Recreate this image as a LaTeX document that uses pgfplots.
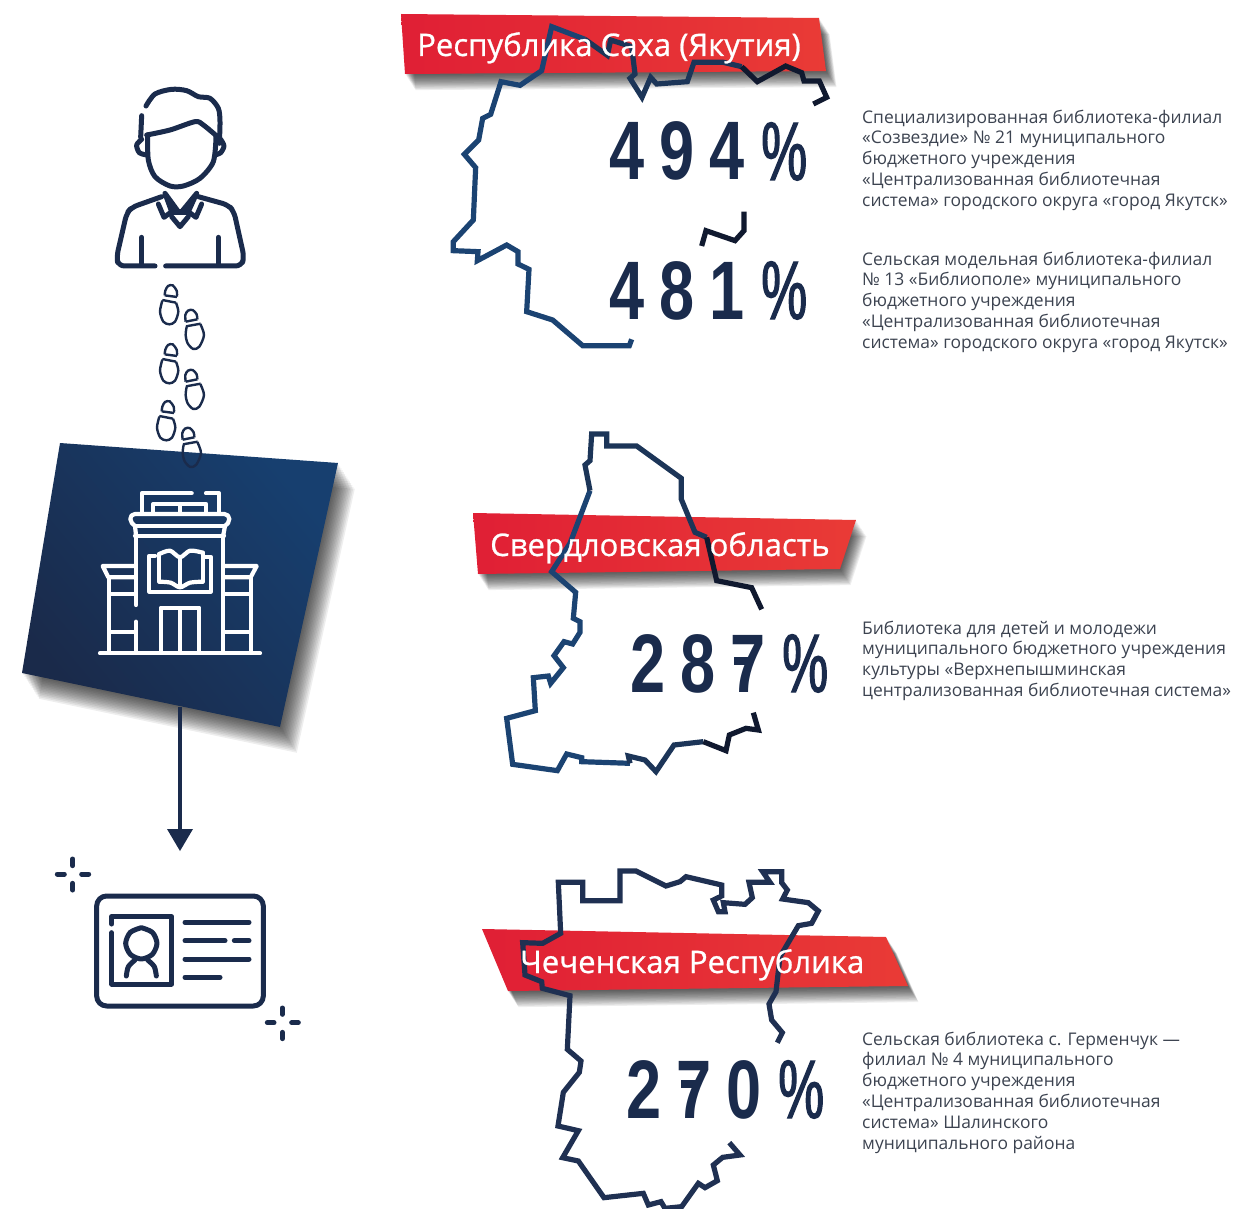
\documentclass[border=0pt]{standalone}
\usepackage{fontspec}
\usepackage{pgfplots}
\pgfplotsset{compat=1.18}
\setmainfont{Open Sans}
\newfontfamily\bannerfont{Open Sans}[FakeBold=0.8]
\newfontfamily\numfont{Liberation Sans}[FakeStretch=0.76,LetterSpace=18]
\newfontfamily\pctfont{Liberation Sans}[FakeStretch=0.62,FakeBold=1.5]
\definecolor{navy}{HTML}{1A2B4C}
\definecolor{mapA}{HTML}{1B4372}
\definecolor{mapB}{HTML}{1C3558}
\definecolor{mapC}{HTML}{10192F}
\definecolor{mapD}{HTML}{1F3052}
\definecolor{redL}{HTML}{E01F35}
\definecolor{redR}{HTML}{E93B36}
\definecolor{tileL}{HTML}{1A2A4A}
\definecolor{tileR}{HTML}{173F6F}
\definecolor{body}{HTML}{3C4350}
% zoomed-crop coordinates -> picture pixels
\pgfplotsset{
  crop/.style n args={2}{x filter/.expression={#1+x/3},y filter/.expression={#2+y/3}},
  icon/.style={no marks,line join=round,line cap=round,line width=5pt,navy},
  mapline/.style={no marks,line join=miter,line width=5.2pt},
  whiteline/.style={no marks,line join=round,line cap=round,line width=4.2pt,white,crop={20}{440}},
  cardline/.style={icon,crop={50}{820}},
  manline/.style={icon,crop={100}{80}},
  footline/.style={no marks,navy,line width=2.4pt},
}
% soft shadow under a polygon: #1 = reach, #2 = corners
\newcommand{\softshadow}[2]{%
  \pgfplotsinvokeforeach{1,...,14}{%
    \addplot[draw=none,fill=black,fill opacity=0.065,no marks,
      x filter/.expression={x+0.75*#1*##1},y filter/.expression={y+1.15*#1*##1}] coordinates {#2};
  }%
}
\newcommand{\footL}[2]{%
  \addplot[footline,smooth,crop={140+#1}{280+#2}] coordinates {(108,68) (115,95) (105,125) (88,133) (70,125) (60,95) (67,62)};
  \addplot[footline,crop={140+#1}{280+#2}] coordinates {(67,60) (108,68)};
  \addplot[footline,smooth,crop={140+#1}{280+#2}] coordinates {(111,50) (110,32) (98,16) (84,18) (76,32) (74,46)};
  \addplot[footline,crop={140+#1}{280+#2}] coordinates {(74,46) (111,51)};
}
\newcommand{\footR}[2]{%
  \addplot[footline,smooth,crop={140+#1}{280+#2}] coordinates {(181,132) (192,165) (178,200) (160,207) (143,190) (137,165) (140,140)};
  \addplot[footline,crop={140+#1}{280+#2}] coordinates {(138,139) (182,131)};
  \addplot[footline,smooth,crop={140+#1}{280+#2}] coordinates {(172,118) (170,103) (158,90) (144,92) (136,105) (137,125)};
  \addplot[footline,crop={140+#1}{280+#2}] coordinates {(137,125) (172,118)};
}
\newcommand{\bannertext}[3]{\node[anchor=base west,inner sep=0pt,white] at (axis cs:#1,#2) {\fontsize{31.1}{37}\selectfont\bannerfont #3};}
\newcommand{\bignum}[3]{\node[anchor=base west,inner sep=0pt,navy] at (axis cs:#1,#2) {\fontsize{83}{90}\selectfont\numfont\bfseries #3\hspace{17pt}\pctfont\mdseries\%};}
\newcommand{\bodytext}[3]{\node[anchor=north west,inner sep=0pt,body,align=left,font=\fontsize{17.43}{20.9}\selectfont] at (axis cs:#1,#2) {#3};}

\begin{document}
\begin{tikzpicture}
\useasboundingbox (0,0) rectangle (1240pt,1209pt);
\begin{axis}[
  scale only axis,
  width=1240pt,height=1209pt,
  xmin=0,xmax=1240,ymin=0,ymax=1209,
  y dir=reverse,
  hide axis,
]
% man
\addplot[manline,smooth] coordinates {(138,78) (165,42) (215,28) (260,32) (295,50) (330,55) (355,85) (360,125) (358,190)};
\addplot[manline] coordinates {(125,107) (122,172)};
\addplot[manline,smooth] coordinates {(140,165) (210,150) (285,125) (310,135) (350,168)};
\addplot[manline,smooth] coordinates {(143,165) (145,240) (165,290) (210,318) (250,318) (300,295) (340,245) (348,170)};
\addplot[manline,smooth] coordinates {(125,178) (110,195) (118,218) (140,225)};
\addplot[manline,smooth] coordinates {(362,178) (372,198) (362,218) (345,225)};
\addplot[manline] coordinates {(175,372) (192,412) (215,395) (195,340) (235,395) (245,395) (290,340) (265,395) (288,412) (305,372)};
\addplot[manline] coordinates {(215,410) (240,440) (265,410)};
\addplot[manline] coordinates {(215,398) (265,398)};
\addplot[manline,rounded corners=6pt] coordinates {(185,350) (95,382) (80,400) (50,530) (55,558) (165,558)};
\addplot[manline,rounded corners=6pt] coordinates {(295,350) (385,375) (402,395) (432,530) (425,558) (197,558)};
\addplot[manline] coordinates {(125,472) (125,555)};
\addplot[manline] coordinates {(355,472) (355,555)};
% tile with its shadow
\softshadow{1.6}{(60,443) (338,463) (280,727) (22,673)}
\addplot[draw=none,no marks,shade,bottom color=tileL,top color=tileR,shading angle=-50] coordinates {(60,443) (338,463) (280,727) (22,673)};
% footprints
\footL{0}{0}
\footR{0}{0}
\footL{0}{59}
\footR{0}{60}
\footL{-3}{116}
\footR{-3}{118}
% building
\addplot[whiteline] coordinates {(240,640) (720,640)};
\addplot[whiteline] coordinates {(348,285) (348,495)};
\addplot[whiteline] coordinates {(348,545) (348,635)};
\addplot[whiteline] coordinates {(610,285) (610,635)};
\addplot[whiteline] coordinates {(345,287) (612,287)};
\addplot[whiteline,rounded corners=5pt] coordinates {(345,258) (332,252) (330,222) (628,222) (628,252) (615,258)};
\addplot[whiteline] coordinates {(345,258) (615,258)};
\addplot[whiteline] coordinates {(345,258) (348,285)};
\addplot[whiteline] coordinates {(615,258) (610,285)};
\addplot[whiteline] coordinates {(365,218) (365,160) (515,160)};
\addplot[whiteline] coordinates {(558,160) (597,160) (597,218)};
\addplot[whiteline] coordinates {(400,218) (400,192) (558,192) (558,218)};
\addplot[whiteline] coordinates {(480,192) (480,218)};
\addplot[whiteline] coordinates {(342,378) (248,378) (265,412) (342,412)};
\addplot[whiteline] coordinates {(268,412) (268,635)};
\addplot[whiteline] coordinates {(268,463) (345,463)};
\addplot[whiteline] coordinates {(268,575) (345,575)};
\addplot[whiteline] coordinates {(615,378) (710,378) (692,412) (615,412)};
\addplot[whiteline] coordinates {(692,412) (692,635)};
\addplot[whiteline] coordinates {(615,463) (692,463)};
\addplot[whiteline] coordinates {(615,575) (692,575)};
\addplot[whiteline] coordinates {(422,635) (422,503) (538,503) (538,635)};
\addplot[whiteline] coordinates {(480,510) (480,635)};
\addplot[whiteline] coordinates {(405,347) (388,347) (388,455) (572,455) (572,350) (555,350)};
\addplot[whiteline] coordinates {(418,342) (418,425)};
\addplot[whiteline] coordinates {(548,338) (548,425)};
\addplot[whiteline] coordinates {(480,352) (480,440)};
\addplot[whiteline,smooth] coordinates {(418,342) (450,332) (480,352) (510,332) (548,338)};
\addplot[whiteline,smooth] coordinates {(418,425) (452,428) (480,442) (510,428) (548,425)};
% arrow
\addplot[no marks,navy,line width=3.5pt] coordinates {(180,707) (180,830)};
\addplot[draw=none,fill=navy,no marks] coordinates {(167,829) (193,829) (180,851)};
% card
\addplot[cardline,rounded corners=10pt] coordinates {(390,228) (640,228) (640,558) (140,558) (140,228) (390,228)};
\addplot[cardline] coordinates {(185,312) (185,290) (365,290) (365,492) (185,492) (185,338)};
\addplot[cardline,smooth] coordinates {(274,323) (307,337) (321,370) (307,403) (274,417) (241,403) (227,370) (241,337) (274,323)};
\addplot[cardline,smooth] coordinates {(229,468) (235,440) (255,420)};
\addplot[cardline,smooth] coordinates {(319,468) (313,440) (293,420)};
\addplot[cardline] coordinates {(405,307) (597,307)};
\addplot[cardline] coordinates {(405,362) (525,362)};
\addplot[cardline] coordinates {(553,362) (597,362)};
\addplot[cardline] coordinates {(405,417) (597,417)};
\addplot[cardline] coordinates {(405,472) (510,472)};
\addplot[cardline] coordinates {(68,117) (68,137)};
\addplot[cardline] coordinates {(68,190) (68,210)};
\addplot[cardline] coordinates {(22,162) (43,162)};
\addplot[cardline] coordinates {(95,162) (116,162)};
\addplot[cardline] coordinates {(697,564) (697,583)};
\addplot[cardline] coordinates {(697,637) (697,656)};
\addplot[cardline] coordinates {(652,608) (672,608)};
\addplot[cardline] coordinates {(725,608) (745,608)};
% banners
\softshadow{1}{(401,14) (819,18) (826,71) (405,74)}
\addplot[draw=none,no marks,shade,left color=redL,right color=redR] coordinates {(401,14) (819,18) (826,71) (405,74)};
\softshadow{1}{(473,513) (856,520) (840,569) (478,574)}
\addplot[draw=none,no marks,shade,left color=redL,right color=redR] coordinates {(473,513) (856,520) (840,569) (478,574)};
\softshadow{1}{(482,929) (886,937) (908,986) (508,991)}
\addplot[draw=none,no marks,shade,left color=redL,right color=redR] coordinates {(482,929) (886,937) (908,986) (508,991)};
% map 1
\addplot[mapline,mapA,crop={400}{0}] coordinates {(695,1018) (688,1037) (548,1037) (458,960) (380,935) (387,808) (354,792) (354,755) (320,735) (232,782) (234,755) (160,752) (160,725) (220,660) (227,503) (193,463) (236,420) (248,355) (272,343) (303,245) (360,256) (425,212) (455,80) (555,118)};
\addplot[mapline,mapB,crop={400}{0}] coordinates {(555,118) (622,166) (632,120) (695,140) (705,222) (690,235) (726,292) (752,232) (770,252) (862,245) (882,187) (970,187) (1025,200)};
\addplot[mapline,mapC,crop={400}{0}] coordinates {(1025,200) (1072,245) (1157,198) (1205,218) (1212,243) (1258,243) (1280,292) (1240,312)};
\addplot[mapline,mapC,crop={400}{0}] coordinates {(1032,635) (1032,692) (1005,722) (918,692) (905,738)};
% map 2
\addplot[mapline,mapA,crop={460}{420}] coordinates {(390,212) (330,370) (275,455) (347,517) (340,595) (360,605) (360,637) (338,672) (312,665) (282,707) (310,743) (272,790) (265,768) (220,773) (226,872) (140,895) (158,1033) (292,1052) (320,1002) (365,1013) (365,1025) (510,1030)};
\addplot[mapline,mapB,crop={460}{420}] coordinates {(510,1030) (505,1008) (555,1020) (588,1055) (642,975) (730,965)};
\addplot[mapline,mapC,crop={460}{420}] coordinates {(730,965) (798,992) (808,945) (858,925) (895,930) (880,878)};
\addplot[mapline,mapB,crop={460}{420}] coordinates {(740,352) (705,337) (664,238) (664,175) (530,78) (440,78) (440,42) (395,42) (390,122) (375,135) (390,212)};
\addplot[mapline,mapC,crop={460}{420}] coordinates {(905,568) (875,503) (770,482) (740,352)};
% map 3
\addplot[mapline,mapD,crop={470}{860}] coordinates {(922,548) (937,518) (905,480) (897,432) (918,395) (930,290) (985,197) (1025,190) (1045,153) (1015,128) (938,117) (952,90) (935,68) (935,35) (878,35) (900,67) (837,67) (847,113) (825,133) (760,128) (765,155) (745,155) (730,120) (755,108) (755,75) (648,50) (630,65) (588,78) (498,33) (450,33) (450,122) (338,122) (338,67) (265,67) (272,220) (218,250) (158,248) (165,345) (215,365) (217,385) (300,407) (292,568) (333,603) (328,637) (280,697) (264,798) (325,812) (278,893) (325,903) (402,1013) (520,1000) (535,1035) (573,1025) (585,1045) (635,1040) (685,970) (705,983) (742,962) (730,915) (758,892) (810,885) (778,848)};
% bars of the sevens
\addplot[draw=none,fill=navy,no marks] coordinates {(734,657) (752,657) (752,665) (734,665)};
\addplot[draw=none,fill=navy,no marks] coordinates {(681,1080) (699,1080) (699,1088) (681,1088)};
% texts
\bannertext{417}{56}{Республика Саха (Якутия)}
\bannertext{490}{556}{Свердловская область}
\bannertext{520}{973}{Чеченская Республика}
\bignum{609}{180}{494}
\bignum{609}{319}{481}
\bignum{630}{692}{287}
\bignum{626}{1118}{270}
\bodytext{862}{109.5}{Специализированная библиотека-филиал\\«Созвездие» № 21 муниципального\\бюджетного учреждения\\«Централизованная библиотечная\\система» городского округа «город Якутск»}
\bodytext{862}{251.5}{Сельская модельная библиотека-филиал\\№ 13 «Библиополе» муниципального\\бюджетного учреждения\\«Централизованная библиотечная\\система» городского округа «город Якутск»}
\bodytext{862}{620.5}{Библиотека для детей и молодежи\\муниципального бюджетного учреждения\\культуры «Верхнепышминская\\централизованная библиотечная система»}
\bodytext{862}{1031.5}{Сельская библиотека с. Герменчук —\\филиал № 4 муниципального\\бюджетного учреждения\\«Централизованная библиотечная\\система» Шалинского\\муниципального района}
\end{axis}
\end{tikzpicture}
\end{document}
